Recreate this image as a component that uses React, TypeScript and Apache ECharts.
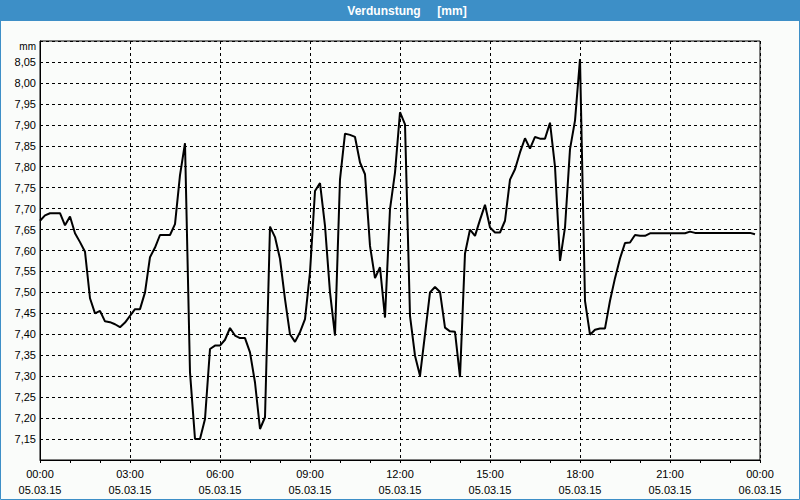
import React, { useEffect, useRef } from "react";
import * as echarts from "echarts";

const TITLE = "Verdunstung     [mm]";
const UNIT = "mm";
const START_DATE = "05.03.15";
const NEXT_DATE = "06.03.15";
const STEP_MINUTES = 10;

// Verdunstung [mm], one value every 10 minutes from 05.03.15 00:00
const VALUES = [
  7.671, 7.684, 7.689, 7.689, 7.689, 7.66, 7.681, 7.641, 7.62, 7.597,
  7.486, 7.45, 7.456, 7.431, 7.429, 7.424, 7.417, 7.428, 7.444, 7.46,
  7.46, 7.5, 7.584, 7.607, 7.637, 7.637, 7.637, 7.663, 7.78, 7.856,
  7.309, 7.15, 7.15, 7.198, 7.365, 7.373, 7.373, 7.387, 7.415, 7.397,
  7.391, 7.391, 7.357, 7.285, 7.174, 7.202, 7.657, 7.632, 7.58, 7.484,
  7.4, 7.382, 7.405, 7.436, 7.548, 7.742, 7.761, 7.659, 7.5, 7.397,
  7.77, 7.879, 7.876, 7.871, 7.81, 7.782, 7.611, 7.534, 7.56, 7.44,
  7.699, 7.786, 7.93, 7.901, 7.444, 7.349, 7.301, 7.4, 7.5, 7.513,
  7.501, 7.416, 7.407, 7.406, 7.298, 7.593, 7.65, 7.635, 7.673, 7.709,
  7.655, 7.643, 7.643, 7.671, 7.769, 7.794, 7.834, 7.868, 7.843, 7.871,
  7.867, 7.867, 7.905, 7.8, 7.575, 7.655, 7.842, 7.91, 8.057, 7.48,
  7.399, 7.411, 7.414, 7.414, 7.48, 7.534, 7.581, 7.618, 7.619, 7.637,
  7.635, 7.635, 7.641, 7.641, 7.641, 7.641, 7.641, 7.641, 7.641, 7.641,
  7.645, 7.642, 7.642, 7.642, 7.642, 7.642, 7.642, 7.642, 7.642, 7.642,
  7.642, 7.642, 7.642, 7.639,
];

const X_MIN_HOURS = 0;
const X_MAX_HOURS = 24;
const X_STEP_HOURS = 3;
const Y_MIN = 7.1;
const Y_MAX = 8.1;
const Y_STEP = 0.05;
const Y_LABEL_FIRST = 7.15;
const Y_LABEL_LAST = 8.05;

const BLUE = "#3D8FC7";
const BG = "#FAFCFA";
const FONT = "Liberation Sans";

export default function App() {
  const ref = useRef<HTMLDivElement>(null);
  useEffect(() => {
    document.body.style.margin = "0";
    const chart = echarts.init(ref.current!, null, { renderer: "svg" });
    const data = VALUES.map((v, i) => [(i * STEP_MINUTES) / 60, v]);
    chart.setOption({
      animation: false,
      backgroundColor: BG,
      grid: {
        left: 40,
        right: 40,
        top: 41,
        bottom: 40,
        show: true,
        borderColor: "#000",
        borderWidth: 1,
        backgroundColor: "transparent",
      },
      xAxis: {
        type: "value",
        min: X_MIN_HOURS,
        max: X_MAX_HOURS,
        interval: X_STEP_HOURS,
        axisLine: { show: true, lineStyle: { color: "#000", width: 1 } },
        axisTick: { show: true, length: 3, lineStyle: { color: "#000" } },
        minorTick: { show: true, splitNumber: 3, length: 3, lineStyle: { color: "#000" } },
        splitLine: { show: true, lineStyle: { color: "#000", type: [3, 3], width: 1 } },
        axisLabel: {
          show: true,
          showMinLabel: true,
          showMaxLabel: true,
          margin: 6,
          fontSize: 11,
          lineHeight: 16,
          fontFamily: FONT,
          color: "#000",
          formatter: (v: number) => {
            const h = Math.round(v);
            const hh = h % 24;
            const date = h >= 24 ? NEXT_DATE : START_DATE;
            return `${String(hh).padStart(2, "0")}:00\n${date}`;
          },
        },
      },
      yAxis: {
        type: "value",
        min: Y_MIN,
        max: Y_MAX,
        interval: Y_STEP,
        axisLine: { show: true, lineStyle: { color: "#000", width: 1 } },
        axisTick: { show: false },
        splitLine: { show: true, lineStyle: { color: "#000", type: [3, 3], width: 1 } },
        axisLabel: {
          margin: 4,
          fontSize: 11,
          fontFamily: FONT,
          color: "#000",
          formatter: (v: number) =>
            v < Y_LABEL_FIRST - 0.001 || v > Y_LABEL_LAST + 0.001
              ? ""
              : v.toFixed(2).replace(".", ","),
        },
      },
      series: [
        {
          type: "line",
          data,
          showSymbol: false,
          symbol: "none",
          lineStyle: { color: "#000", width: 2 },
          z: 5,
        },
      ],
      graphic: [
        {
          type: "rect",
          shape: { x: 0, y: 0, width: 800, height: 21 },
          style: { fill: BLUE },
          z: 10,
        },
        {
          type: "rect",
          shape: { x: 0.5, y: 0.5, width: 799, height: 499 },
          style: { fill: "none", stroke: BLUE, lineWidth: 1 },
          z: 10,
        },
        {
          type: "text",
          x: 407,
          y: 11,
          style: {
            text: TITLE,
            fill: "#fff",
            fontSize: 12,
            fontWeight: "bold",
            fontFamily: FONT,
            align: "center",
            verticalAlign: "middle",
          },
          z: 11,
        },
        {
          type: "text",
          x: 36,
          y: 46,
          style: {
            text: UNIT,
            fill: "#000",
            fontSize: 10,
            fontFamily: FONT,
            align: "right",
            verticalAlign: "middle",
          },
          z: 11,
        },
      ],
    });
    return () => chart.dispose();
  }, []);
  return <div ref={ref} style={{ width: 800, height: 500 }} />;
}
